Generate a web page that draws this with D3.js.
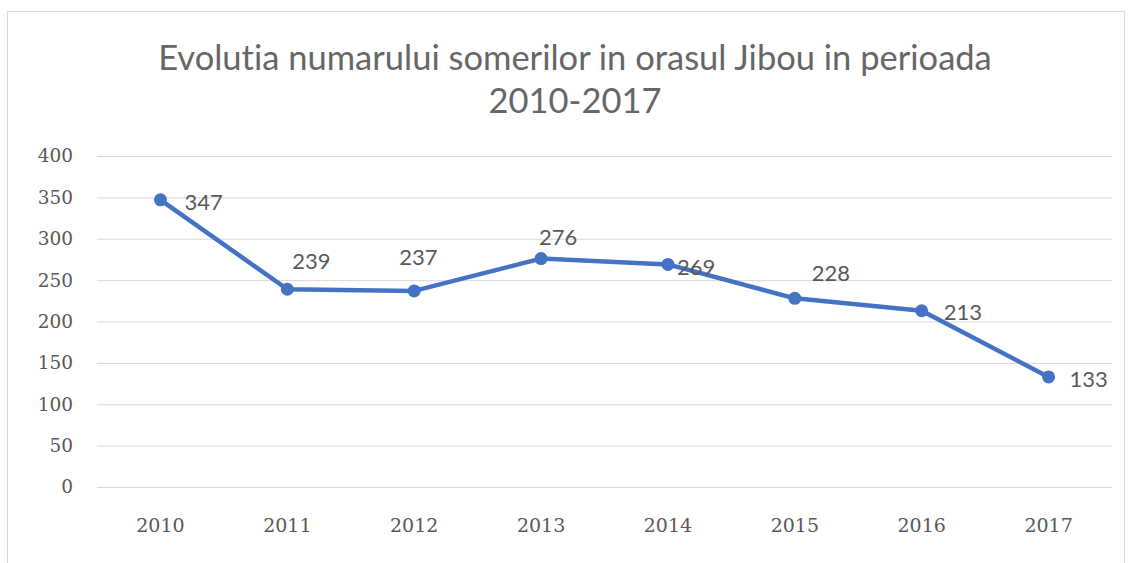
<!DOCTYPE html>
<html>
<head>
<meta charset="utf-8">
<script src="https://cdn.jsdelivr.net/npm/d3@7"></script>
<style>
  body { margin: 0; background: #fff; }
  svg { display: block; }
  text { font-variant-ligatures: none; }
</style>
</head>
<body>
<div id="chart"></div>
<script>
const years = ["2010", "2011", "2012", "2013", "2014", "2015", "2016", "2017"];
const someri = [347, 239, 237, 276, 269, 228, 213, 133];
const yTicks = [0, 50, 100, 150, 200, 250, 300, 350, 400];
const titleLines = ["Evolutia numarului somerilor in orasul Jibou in perioada", "2010-2017"];
// label offsets from each point (text start, vertical middle)
const labelOffsets = [[24, 2], [5, -28], [-15, -34], [-2, -22], [9, 3], [17, -25], [22, 1], [21, 2]];

const width = 1131;
const height = 563;
const margin = { top: 156, right: 19, bottom: 76, left: 97 };

const svg = d3
  .select("#chart")
  .append("svg")
  .attr("width", width)
  .attr("height", height);

svg
  .append("rect")
  .attr("x", 7.5)
  .attr("y", 11.5)
  .attr("width", 1117)
  .attr("height", 560)
  .attr("fill", "#fff")
  .attr("stroke", "#d9d9d9");

const x = d3
  .scaleBand()
  .domain(years)
  .range([margin.left, width - margin.right]);

const y = d3
  .scaleLinear()
  .domain([0, 400])
  .range([height - margin.bottom, margin.top]);

svg
  .append("g")
  .attr("class", "title")
  .selectAll("text")
  .data(titleLines)
  .join("text")
  .attr("x", 575)
  .attr("y", (d, i) => 70 + i * 43)
  .attr("text-anchor", "middle")
  .attr("font-family", "Lato, sans-serif")
  .attr("font-size", 34.5)
  .attr("fill", "#666")
  .text((d) => d);

const yAxis = svg
  .append("g")
  .attr("transform", `translate(${margin.left},0)`)
  .call(
    d3
      .axisLeft(y)
      .tickValues(yTicks)
      .tickSize(-(width - margin.left - margin.right))
      .tickPadding(24)
  );
yAxis.select(".domain").remove();
yAxis.selectAll("line").attr("stroke", "#d9d9d9");
yAxis
  .selectAll("text")
  .attr("font-family", "DejaVu Serif, serif")
  .attr("font-size", 18.5)
  .attr("fill", "#595959");

const xAxis = svg
  .append("g")
  .attr("transform", `translate(0,${height - margin.bottom})`)
  .call(d3.axisBottom(x).tickSize(0).tickPadding(32));
xAxis.select(".domain").remove();
xAxis
  .selectAll("text")
  .attr("font-family", "DejaVu Serif, serif")
  .attr("font-size", 19)
  .attr("fill", "#595959");

const points = years.map((yr, i) => ({ year: yr, value: someri[i], off: labelOffsets[i] }));
const cx = (d) => x(d.year) + x.bandwidth() / 2;

svg
  .append("path")
  .datum(points)
  .attr("fill", "none")
  .attr("stroke", "#4472c4")
  .attr("stroke-width", 4.5)
  .attr("stroke-linejoin", "round")
  .attr("d", d3.line().x(cx).y((d) => y(d.value)));

svg
  .append("g")
  .selectAll("circle")
  .data(points)
  .join("circle")
  .attr("cx", cx)
  .attr("cy", (d) => y(d.value))
  .attr("r", 6.5)
  .attr("fill", "#4472c4");

svg
  .append("g")
  .selectAll("text")
  .data(points)
  .join("text")
  .attr("x", (d) => cx(d) + d.off[0])
  .attr("y", (d) => y(d.value) + d.off[1])
  .attr("dy", "0.36em")
  .attr("font-family", "Lato, sans-serif")
  .attr("font-size", 22)
  .attr("fill", "#595959")
  .text((d) => d.value);
</script>
</body>
</html>
